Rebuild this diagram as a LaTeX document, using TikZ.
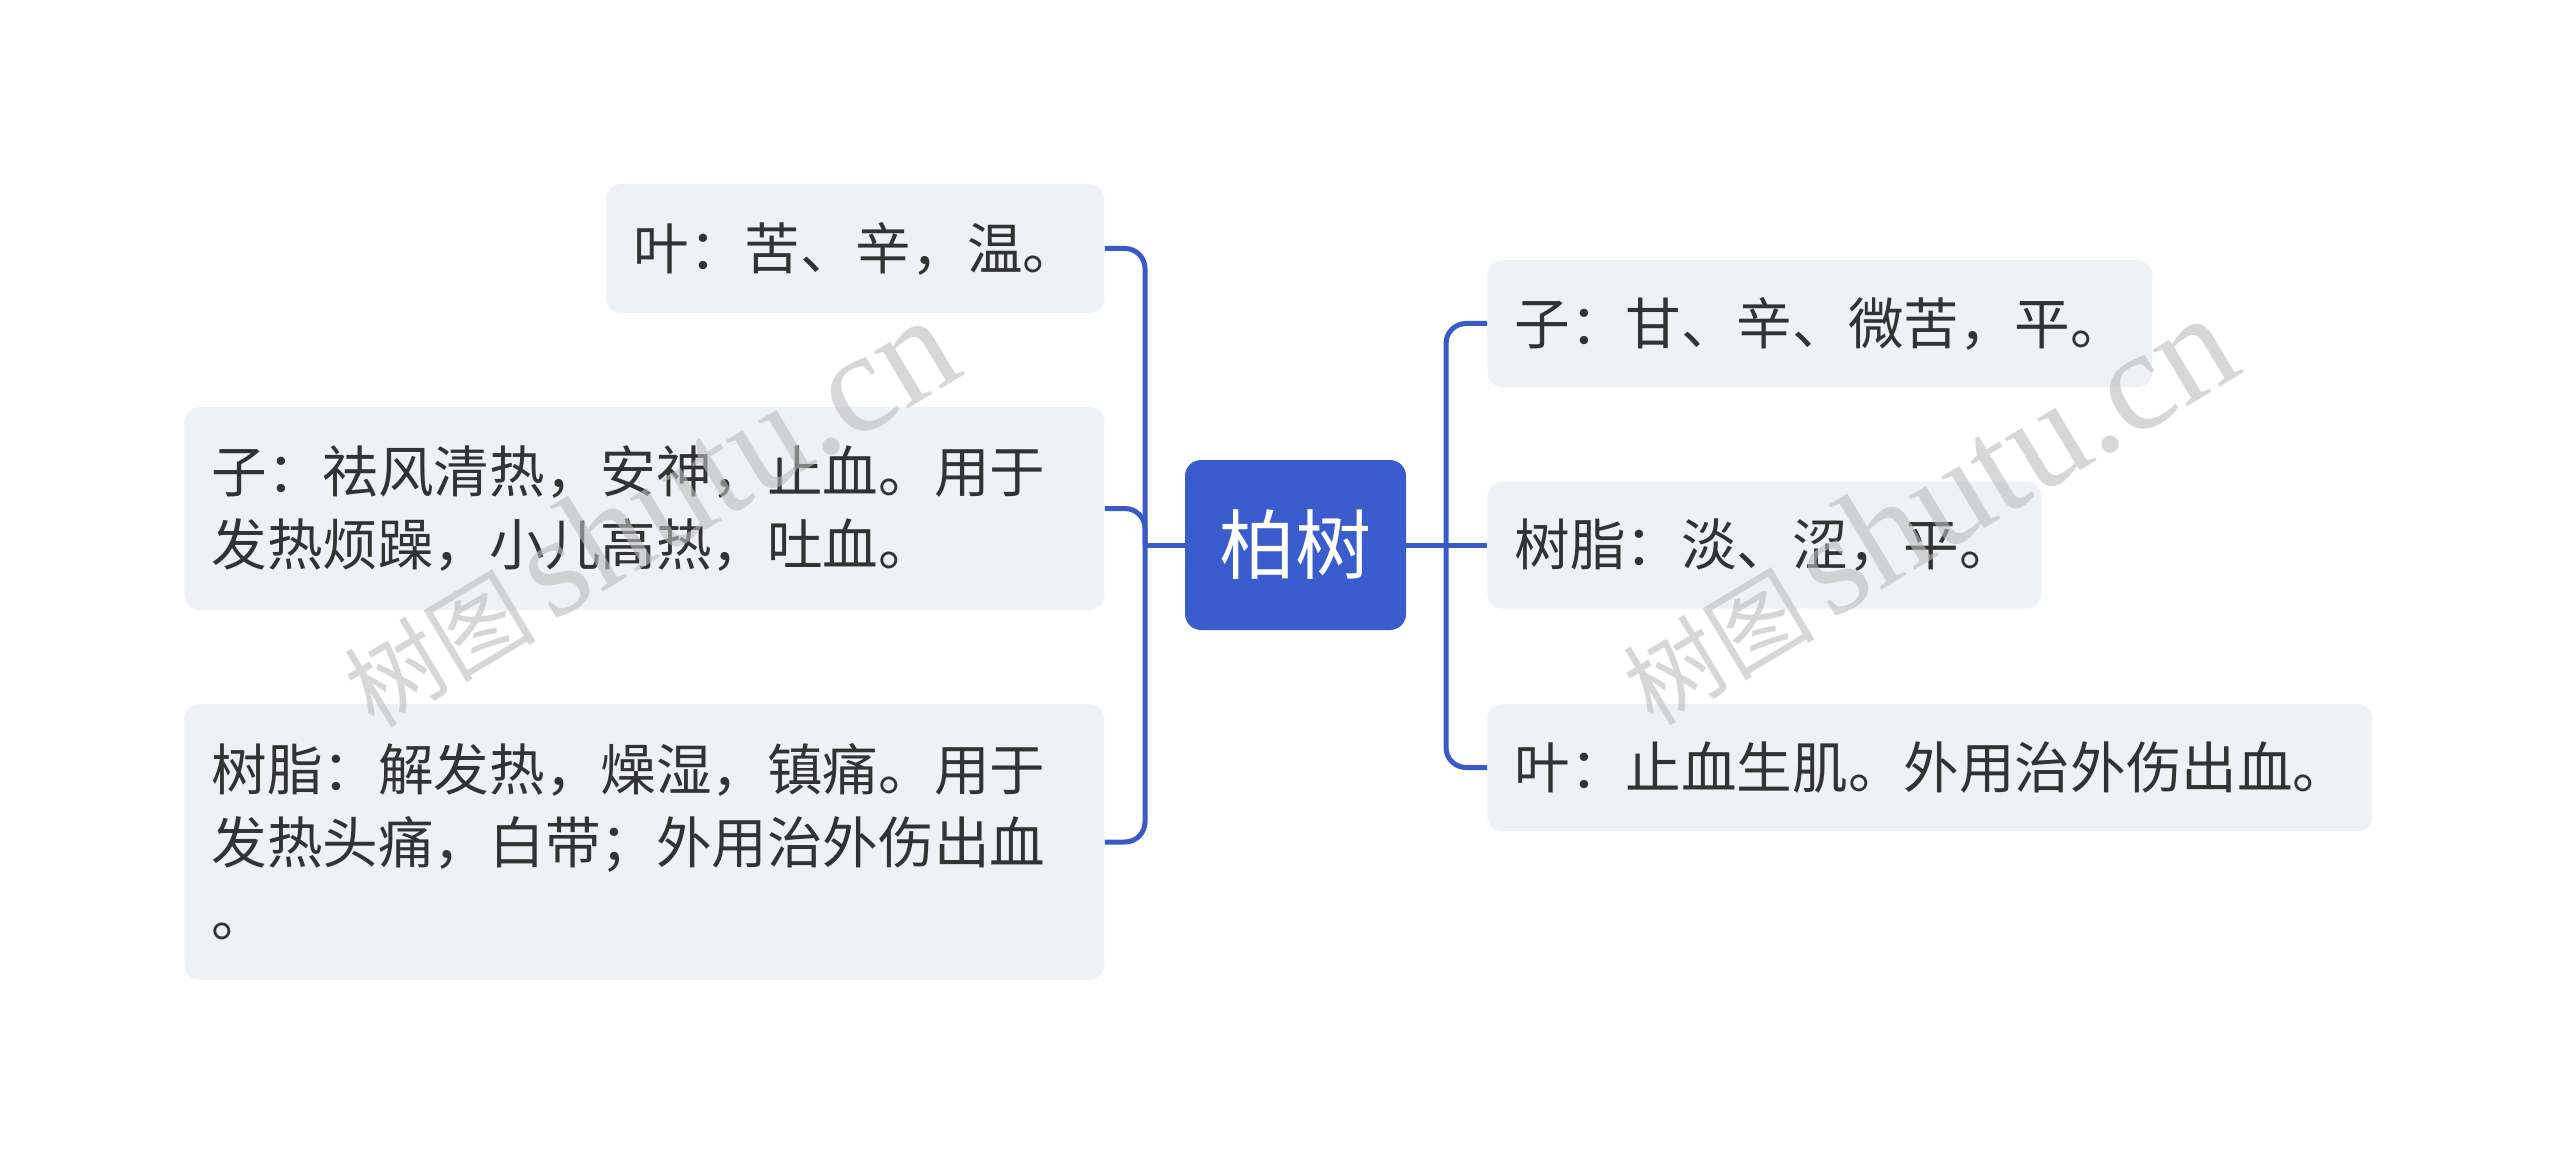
\documentclass[tikz,border=0pt]{standalone}
\usepackage{fontspec}
\setmainfont{Noto Sans CJK SC}
\newfontfamily\wmserif{Liberation Serif}
\definecolor{linec}{HTML}{3A5BC7}
\definecolor{rootc}{HTML}{3A5CCC}
\definecolor{boxc}{HTML}{EEF1F5}
\definecolor{txtc}{HTML}{333333}
\definecolor{wmc}{HTML}{BDBDBD}
\begin{document}
\begin{tikzpicture}[x=0.5pt,y=-0.5pt,
  conn/.style={draw=linec,line width=2.5pt,rounded corners=10pt},
  leaf/.style={rectangle,rounded corners=7.5pt,fill=boxc,text=txtc,
    inner xsep=13.5pt,inner ysep=0pt,align=left,anchor=west,
    font=\fontsize{27.8pt}{36.5pt}\selectfont},
  rootbox/.style={rectangle,rounded corners=8pt,fill=rootc,text=white,
    inner sep=0pt,minimum width=110.5pt,minimum height=85pt,
    font=\fontsize{38pt}{40pt}\selectfont},
  wmark/.style={rotate=31,text=wmc,opacity=0.6,inner sep=0pt,
    font=\fontsize{48pt}{48pt}\selectfont}
]
\useasboundingbox (0,0) rectangle (2560,1166);
\fill[white] (0,0) rectangle (2560,1166);

\node[rootbox] (root) at (1295.5,545) {柏树};

\node[leaf,text width=222pt,minimum height=64.5pt] (l1) at (606,248.5) {叶：苦、辛，温。};
\node[leaf,text width=433pt,minimum height=101.5pt] (l2) at (184,508.5) {子：祛风清热，安神，止血。用于\\发热烦躁，小儿高热，吐血。};
\node[leaf,text width=433pt,minimum height=138pt] (l3) at (184,842) {树脂：解发热，燥湿，镇痛。用于\\发热头痛，白带；外用治外伤出血\\。};

\node[leaf,text width=305.5pt,minimum height=63.5pt] (r1) at (1487,323.5) {子：甘、辛、微苦，平。};
\node[leaf,text width=250pt,minimum height=63.5pt] (r2) at (1487,545) {树脂：淡、涩，平。};
\node[leaf,text width=415.5pt,minimum height=63.5pt] (r3) at (1487,767.5) {叶：止血生肌。外用治外伤出血。};

\coordinate (jl) at (1145,545);
\coordinate (jr) at (1446,545);

\draw[conn] (root.west) -- (jl);
\draw[conn] (jl) |- (l1.east);
\draw[conn] (jl) |- (l2.east);
\draw[conn] (jl) |- (l3.east);

\draw[conn] (root.east) -- (jr);
\draw[conn] (jr) |- (r1.west);
\draw[conn] (jr) -- (r2.west);
\draw[conn] (jr) |- (r3.west);

\node[wmark] (wm1) at (647,512) {树图\,{\wmserif\fontsize{72pt}{72pt}\selectfont shutu.cn}};
\node[wmark] (wm2) at (1926,510) {树图\,{\wmserif\fontsize{72pt}{72pt}\selectfont shutu.cn}};
\end{tikzpicture}
\end{document}
